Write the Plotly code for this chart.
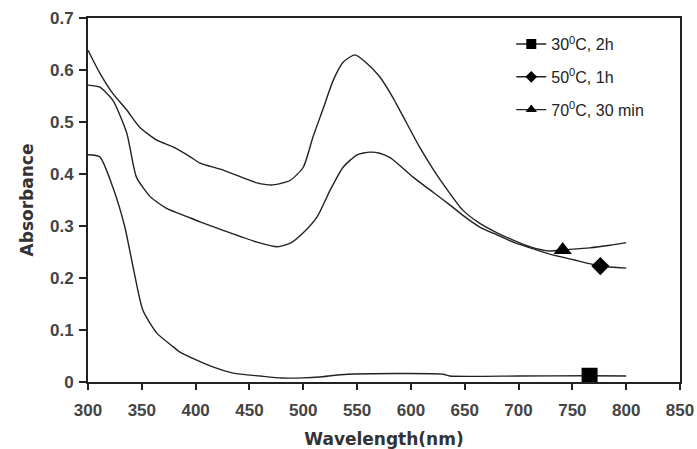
import plotly.graph_objects as go

# ---- data ----
wl_70 = [300, 311, 323, 336, 348, 364, 379, 395, 404, 425, 457, 472, 488, 500, 509, 518, 528, 537, 548,
         559, 571, 583, 596, 608, 621, 634, 648, 664, 680, 695, 711, 729, 741, 766, 785, 800]
abs_70 = [0.638, 0.594, 0.555, 0.523, 0.490, 0.465, 0.452, 0.433, 0.421, 0.408, 0.383, 0.379, 0.388, 0.413,
          0.471, 0.523, 0.581, 0.615, 0.629, 0.613, 0.587, 0.548, 0.498, 0.452, 0.408, 0.369, 0.331, 0.305,
          0.287, 0.273, 0.260, 0.252, 0.254, 0.258, 0.263, 0.268]

wl_50 = [300, 311, 323, 336, 345, 358, 373, 392, 404, 425, 457, 476, 488, 500, 513, 525, 537, 550, 562,
         571, 581, 587, 602, 618, 634, 648, 664, 680, 695, 711, 729, 751, 776, 800]
abs_50 = [0.571, 0.567, 0.542, 0.479, 0.394, 0.356, 0.334, 0.318, 0.308, 0.292, 0.269, 0.260, 0.267, 0.287,
          0.318, 0.369, 0.413, 0.437, 0.442, 0.440, 0.431, 0.421, 0.394, 0.369, 0.344, 0.321, 0.298, 0.283,
          0.269, 0.258, 0.246, 0.235, 0.223, 0.219]

wl_30 = [300, 311, 323, 334, 342, 351, 364, 379, 385, 401, 416, 435, 460, 480, 500, 515, 541, 630, 636,
         700, 766, 800]
abs_30 = [0.437, 0.433, 0.375, 0.300, 0.220, 0.138, 0.094, 0.068, 0.058, 0.042, 0.029, 0.017, 0.0115,
          0.0077, 0.008, 0.0096, 0.015, 0.015, 0.0115, 0.0115, 0.012, 0.0115]

# single marker per series
mark_x = {"30": [766], "50": [776], "70": [741]}
mark_y = {"30": [0.012], "50": [0.223], "70": [0.254]}

labels = {"30": "30<sup>0</sup>C, 2h", "50": "50<sup>0</sup>C, 1h", "70": "70<sup>0</sup>C, 30 min"}
symbols = {"30": "square", "50": "diamond", "70": "triangle-up"}
plot_sizes = {"30": 16, "50": 14, "70": 16}
legend_sizes = {"30": 10, "50": 9, "70": 10}

x_ticks = [300, 350, 400, 450, 500, 550, 600, 650, 700, 750, 800, 850]
y_ticks = [0, 0.1, 0.2, 0.3, 0.4, 0.5, 0.6, 0.7]
y_tick_text = ["0", "0.1", "0.2", "0.3", "0.4", "0.5", "0.6", "0.7"]

LINE = "#222222"
fig = go.Figure()

for key, wl, ab in [("30", wl_30, abs_30), ("50", wl_50, abs_50), ("70", wl_70, abs_70)]:
    fig.add_trace(go.Scatter(x=wl, y=ab, mode="lines",
                             line=dict(color=LINE, width=1.4, shape="spline", smoothing=0.6),
                             showlegend=False, hoverinfo="skip"))

for key in ["30", "50", "70"]:
    fig.add_trace(go.Scatter(x=mark_x[key], y=mark_y[key], mode="markers", showlegend=False,
                             marker=dict(symbol=symbols[key], size=plot_sizes[key], color="#000000")))

for key in ["30", "50", "70"]:
    fig.add_trace(go.Scatter(x=[None], y=[None], mode="lines+markers", name=labels[key],
                             legendgroup=key,
                             line=dict(color="#222222", width=1.4),
                             marker=dict(symbol=symbols[key], size=legend_sizes[key], color="#000000")))

tick_font = dict(family="Liberation Sans, Arial, sans-serif", size=17, color="#444444", weight="bold")
title_font = dict(family="DejaVu Sans, sans-serif", size=17, color="#333333", weight="bold")

fig.update_layout(
    width=697, height=449,
    margin=dict(l=88, r=17, t=18, b=67),
    paper_bgcolor="white", plot_bgcolor="white",
    showlegend=True,
    legend=dict(x=0.715, y=0.975, xanchor="left", yanchor="top",
                bgcolor="rgba(0,0,0,0)", tracegroupgap=9,
                font=dict(family="Liberation Sans, Arial, sans-serif",
                          size=16, color="#222222")),
    xaxis=dict(range=[300, 850], tickvals=x_ticks, ticks="outside", ticklen=6, tickwidth=1.5,
               tickcolor="#222", showline=True, linecolor="#222", linewidth=2, mirror=True,
               showgrid=False, zeroline=False, tickfont=tick_font, ticklabelstandoff=6,
               automargin=False,
               title=dict(text="Wavelength(nm)", standoff=14, font=title_font)),
    yaxis=dict(range=[0, 0.7], tickvals=y_ticks, ticktext=y_tick_text, ticks="outside", ticklen=7,
               tickwidth=1.5, tickcolor="#222", showline=True, linecolor="#222", linewidth=2,
               mirror=True, showgrid=False, zeroline=False, tickfont=tick_font, ticklabelstandoff=2,
               automargin=False,
               title=dict(text="Absorbance", standoff=12, font=title_font)),
)

fig.write_html("out.html")
